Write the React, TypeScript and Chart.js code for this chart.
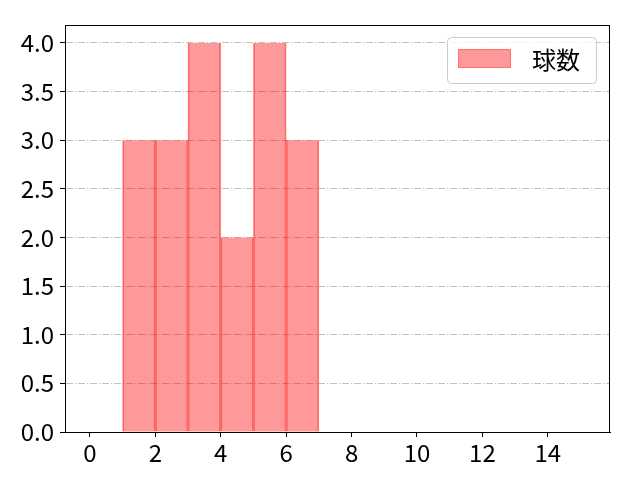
import React, { useEffect, useRef } from "react";
import { Chart, registerables } from "chart.js";

Chart.register(...registerables);

const binStarts = [1, 2, 3, 4, 5, 6];
const binWidth = 1;
const counts = [3, 3, 4, 2, 4, 3];
const xTicks = [0, 2, 4, 6, 8, 10, 12, 14];
const yTicks = [0, 0.5, 1, 1.5, 2, 2.5, 3, 3.5, 4];
const seriesLabel = "球数";
const xMin = -0.76;
const xMax = 15.9;
const yMax = 4.185;

const FONT = "'Noto Sans CJK JP', 'Noto Sans', sans-serif";
const FONT_SIZE = 24;
const FILL = "rgba(255,0,0,0.4)";
const EDGE = "rgba(255,0,0,0.5)";

const framePlugin = {
  id: "frame",
  afterDraw(chart: any) {
    const { ctx, chartArea } = chart;
    ctx.save();
    ctx.strokeStyle = "#000";
    ctx.lineWidth = 1;
    ctx.strokeRect(chartArea.left + 0.5, chartArea.top + 0.5, chartArea.right - chartArea.left - 1, chartArea.bottom - chartArea.top);
    // legend
    const w = 149, h = 46;
    const x = chartArea.right - 14 - w;
    const y = chartArea.top + 12;
    ctx.beginPath();
    ctx.roundRect(x + 0.5, y + 0.5, w, h, 4);
    ctx.fillStyle = "rgba(255,255,255,0.8)";
    ctx.fill();
    ctx.strokeStyle = "#cccccc";
    ctx.stroke();
    ctx.fillStyle = FILL;
    ctx.fillRect(x + 11, y + 12, 53, 19);
    ctx.strokeStyle = "rgba(255,0,0,0.25)";
    ctx.strokeRect(x + 11.5, y + 12.5, 52, 18);
    ctx.fillStyle = "#000";
    ctx.font = FONT_SIZE + "px " + FONT;
    ctx.textBaseline = "middle";
    ctx.textAlign = "left";
    ctx.fillText(seriesLabel, x + 85, y + 23);
    ctx.restore();
  },
};

export default function App() {
  const ref = useRef<HTMLCanvasElement>(null);
  useEffect(() => {
    document.body.style.margin = "0";
    const data = binStarts.map((s, i) => ({ x: s + binWidth / 2, y: counts[i] }));
    const chart = new Chart(ref.current!, {
      type: "bar",
      data: {
        datasets: [
          {
            label: seriesLabel,
            data: data as any,
            backgroundColor: FILL,
            borderColor: EDGE,
            borderWidth: { left: 1, right: 1, top: 0, bottom: 0 },
            borderSkipped: false,
            barPercentage: 1,
            categoryPercentage: 1,
          },
        ],
      },
      options: {
        animation: false,
        responsive: false,
        devicePixelRatio: 1,
        layout: { padding: { top: 25, right: 30, left: 0, bottom: 0 } },
        plugins: { legend: { display: false }, tooltip: { enabled: false } },
        scales: {
          x: {
            type: "linear",
            min: xMin,
            max: xMax,
            offset: false,
            afterBuildTicks: (s: any) => {
              s.ticks = xTicks.map((v) => ({ value: v }));
            },
            afterFit: (s: any) => {
              s.height = 48;
            },
            grid: {
              offset: false,
              display: true,
              drawOnChartArea: false,
              drawTicks: true,
              tickLength: 5,
              tickColor: "#000",
              tickWidth: 1,
            },
            border: { display: true, color: "#000", width: 1 },
            ticks: {
              color: "#000",
              font: { family: FONT, size: FONT_SIZE },
              padding: 1,
              maxRotation: 0,
              callback: (v: any) => String(v),
            },
          },
          y: {
            type: "linear",
            min: 0,
            max: yMax,
            z: 1,
            afterBuildTicks: (s: any) => {
              s.ticks = yTicks.map((v) => ({ value: v }));
            },
            afterFit: (s: any) => {
              s.width = 65;
            },
            grid: {
              display: true,
              color: "#b0b0b0",
              lineWidth: 0.8,
              drawTicks: true,
              tickLength: 5,
              tickColor: "#000",
              tickWidth: 1,
            },
            border: { display: true, color: "#000", width: 1, dash: [7, 2, 1, 2] },
            ticks: {
              color: "#000",
              font: { family: FONT, size: FONT_SIZE },
              padding: 6,
              callback: (v: any) => Number(v).toFixed(1),
            },
          },
        },
      },
      plugins: [framePlugin],
    });
    return () => chart.destroy();
  }, []);
  return (
    <div style={{ position: "relative", width: 640, height: 480, background: "#fff" }}>
      <canvas ref={ref} width={640} height={480} style={{ width: 640, height: 480 }} />
    </div>
  );
}
